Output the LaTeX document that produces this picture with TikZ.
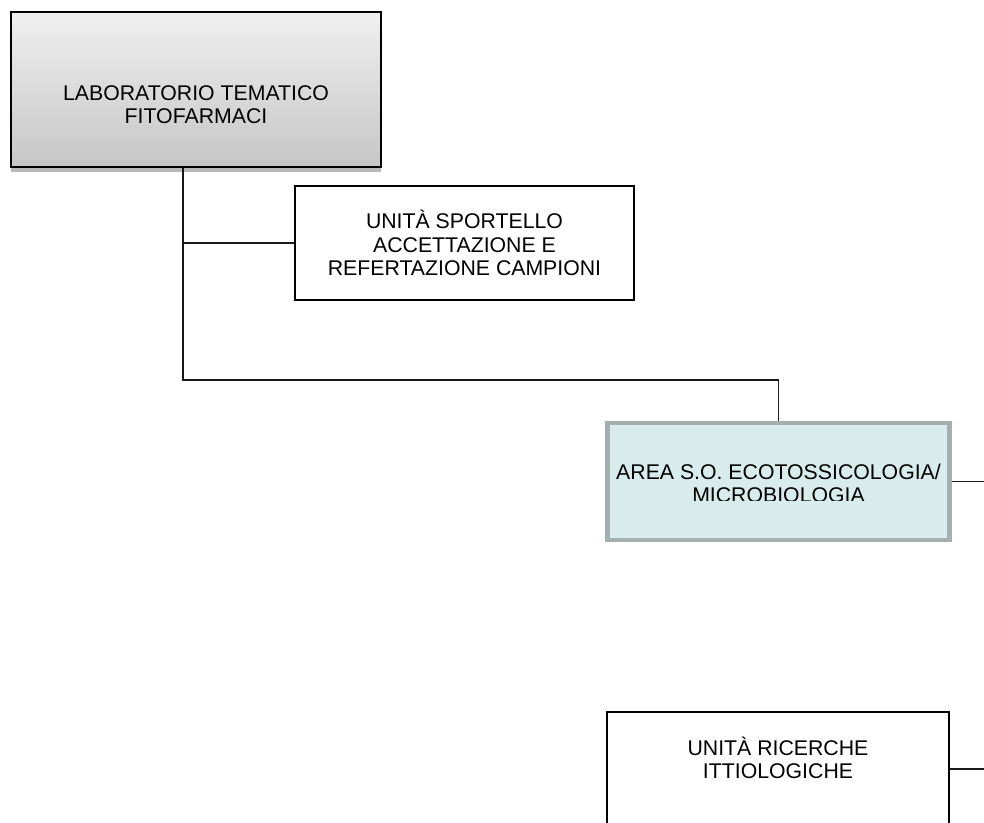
\documentclass[tikz,border=0pt]{standalone}
\usepackage{fontspec}
\setmainfont{Liberation Sans}
\usepackage{tikz}
\usetikzlibrary{calc,positioning,shadows}
\definecolor{areafill}{HTML}{D9ECED}
\definecolor{areaedge}{HTML}{A2B0B0}
\begin{document}
\begin{tikzpicture}[
  font=\fontsize{12.1}{13.2}\selectfont,
  txt/.style={align=center,inner sep=0pt},
  labbox/.style={draw=black,line width=1.2pt,top color=gray!12,bottom color=gray!45,
    minimum width=7.4cm,minimum height=3.1cm,
    drop shadow={shadow xshift=0pt,shadow yshift=-0.09cm,fill=gray!55,opacity=1}},
  unitbox/.style={draw=black,line width=1.1pt,fill=white,minimum width=6.8cm},
  areabox/.style={draw=areaedge,line width=2.8pt,fill=areafill,minimum width=6.84cm,minimum height=2.34cm},
  conn/.style={line width=1.1pt,black!90}]
\useasboundingbox (0,0) rectangle (19.68,-16.44);
\clip (0,0) rectangle (19.68,-16.44);
% boxes
\node[labbox] (lab) at (3.92,-1.79) {};
\node[txt] (labtxt) at ($(lab.center)+(0,-0.31)$) {LABORATORIO TEMATICO\\FITOFARMACI};
\node[unitbox,minimum width=6.78cm,minimum height=2.28cm,txt] (sport) at (9.29,-4.86) {UNITÀ SPORTELLO\\ACCETTAZIONE E\\REFERTAZIONE CAMPIONI};
\node[areabox] (area) at (15.57,-9.63) {};
\begin{scope}
\clip (area.west |- 0,-9.0) rectangle (area.east |- 0,-10.0);
\node[txt] (areatxt) at ($(area.center)+(0,-0.03)$) {AREA S.O. ECOTOSSICOLOGIA/\\MICROBIOLOGIA};
\end{scope}
\node[unitbox,minimum width=6.84cm,minimum height=2.28cm] (ric) at (15.56,-15.38) {};
\node[txt] (rictxt) at ($(ric.center)+(0,0.23)$) {UNITÀ RICERCHE\\ITTIOLOGICHE};
% connectors
\coordinate (trunk) at (3.66,-7.6);
\coordinate (areaout) at (19.68,-9.63);
\coordinate (ricout) at (19.68,-15.38);
\draw[conn] (lab.south -| trunk) -- (trunk) -| (area.north);
\draw[conn] (sport.west) -- (sport.west -| trunk);
\draw[conn] (area.east) -- (areaout);
\draw[conn] (ric.east) -- (ricout);
\end{tikzpicture}
\end{document}
